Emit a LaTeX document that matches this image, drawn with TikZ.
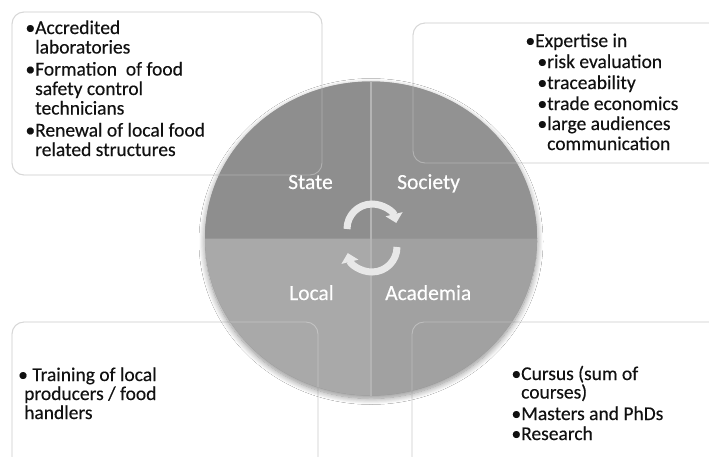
\documentclass[tikz,border=0pt]{standalone}
\usepackage{fontspec}
\setmainfont{Carlito}
\newfontfamily\boxfont{Carlito}[FakeBold=0.3]
\usetikzlibrary{arrows.meta,shadows.blur}
\definecolor{boxline}{HTML}{C6C6C6}
\definecolor{qtl}{HTML}{8E8E8E}
\definecolor{qtr}{HTML}{929292}
\definecolor{qbl}{HTML}{A9A9A9}
\definecolor{qbr}{HTML}{A1A1A1}
\definecolor{arrowcol}{HTML}{E8E8E8}
\definecolor{seam}{HTML}{B4B4B4}
\definecolor{ink}{HTML}{111111}
\newcommand\bul[1]{\makebox[#1][r]{\textbullet}}
\begin{document}
\begin{tikzpicture}[x=1pt,y=1pt,
  infobox/.style={draw=boxline, line width=0.9pt, rounded corners=12pt, fill=white},
  boxedge/.style={draw=white, draw opacity=0.3, line width=0.9pt, rounded corners=12pt},
  txt/.style={anchor=base west, inner sep=0pt, font=\boxfont\fontsize{19.5}{19.5}\selectfont, text=ink},
  qlabel/.style={anchor=base west, inner sep=0pt, font=\boxfont\fontsize{21.5}{21.5}\selectfont, text=white},
  cyc/.style={draw=arrowcol, line width=7pt, -{Triangle[width=17pt,length=9pt]}}
]
\useasboundingbox (0,0) rectangle (709,-456);
\clip (0,0) rectangle (709,-456);
\fill[white] (0,0) rectangle (709,-456);

% boxes
\draw[infobox] (12,-12) rectangle (322,-175);
\draw[infobox] (413,-23) rectangle (730,-163);
\draw[infobox] (12,-322) rectangle (318,-480);
\draw[infobox] (412,-322) rectangle (730,-480);

% circle
\coordinate (c) at (371,-238.5);
\fill[qtl, blur shadow={shadow xshift=0pt, shadow yshift=-3pt, shadow blur radius=6pt, shadow opacity=45, shadow blur steps=12}] (c) ellipse[x radius=166, y radius=157];
\fill[qtl] (c) -- ++(-166,0) arc[start angle=180, end angle=90, x radius=166, y radius=157] -- cycle;
\fill[qtr] (c) -- ++(0,157) arc[start angle=90, end angle=0, x radius=166, y radius=157] -- cycle;
\fill[qbr] (c) -- ++(166,0) arc[start angle=0, end angle=-90, x radius=166, y radius=157] -- cycle;
\fill[qbl] (c) -- ++(0,-157) arc[start angle=-90, end angle=-180, x radius=166, y radius=157] -- cycle;
\draw[seam, line width=1.2pt] (c) ++(0,157) -- ++(0,-314);

% box edges seen through the circle
\draw[boxedge] (12,-12) rectangle (322,-175);
\draw[boxedge] (413,-23) rectangle (730,-163);
\draw[boxedge] (12,-322) rectangle (318,-480);
\draw[boxedge] (412,-322) rectangle (730,-480);

% cycle arrows
\draw[cyc] (372,-229) ++(180:25) arc[start angle=180, end angle=14, radius=25];
\draw[cyc] (372,-247) ++(0:25) arc[start angle=0, end angle=-166, radius=25];

% quadrant labels
\node[qlabel] (state) at (288,-189) {State};
\node[qlabel] (society) at (397,-189) {Society};
\node[qlabel] (local) at (289,-300) {Local};
\node[qlabel] (academia) at (385,-300) {Academia};

% top-left text
\node[txt] (tl1) at (24,-34) {\bul{11pt}Accredited};
\node[txt] (tl2) at (35,-53.5) {laboratories};
\node[txt] (tl3) at (24,-75.5) {\bul{11pt}Formation\ \ of food};
\node[txt] (tl4) at (35,-95) {safety control};
\node[txt] (tl5) at (35,-114.5) {technicians};
\node[txt] (tl6) at (24,-136.5) {\bul{11pt}Renewal of local food};
\node[txt] (tl7) at (35,-156) {related structures};

% top-right text
\node[txt] (tr1) at (525,-47) {\bul{10pt}Expertise in};
\node[txt] (tr2) at (537,-68) {\bul{10pt}risk evaluation};
\node[txt] (tr3) at (537,-89) {\bul{10pt}traceability};
\node[txt] (tr4) at (537,-110) {\bul{10pt}trade economics};
\node[txt] (tr5) at (537,-130) {\bul{10pt}large audiences};
\node[txt] (tr6) at (547,-150) {communication};

% bottom-left text
\node[txt] (bl1) at (18,-381) {\textbullet\ Training of local};
\node[txt] (bl2) at (24,-400) {producers / food};
\node[txt] (bl3) at (24,-419) {handlers};

% bottom-right text
\node[txt] (br1) at (512,-380) {\bul{9pt}Cursus (sum of};
\node[txt] (br2) at (521,-398.5) {courses)};
\node[txt] (br3) at (512,-420) {\bul{9pt}Masters and PhDs};
\node[txt] (br4) at (512,-440) {\bul{9pt}Research};
\end{tikzpicture}
\end{document}
